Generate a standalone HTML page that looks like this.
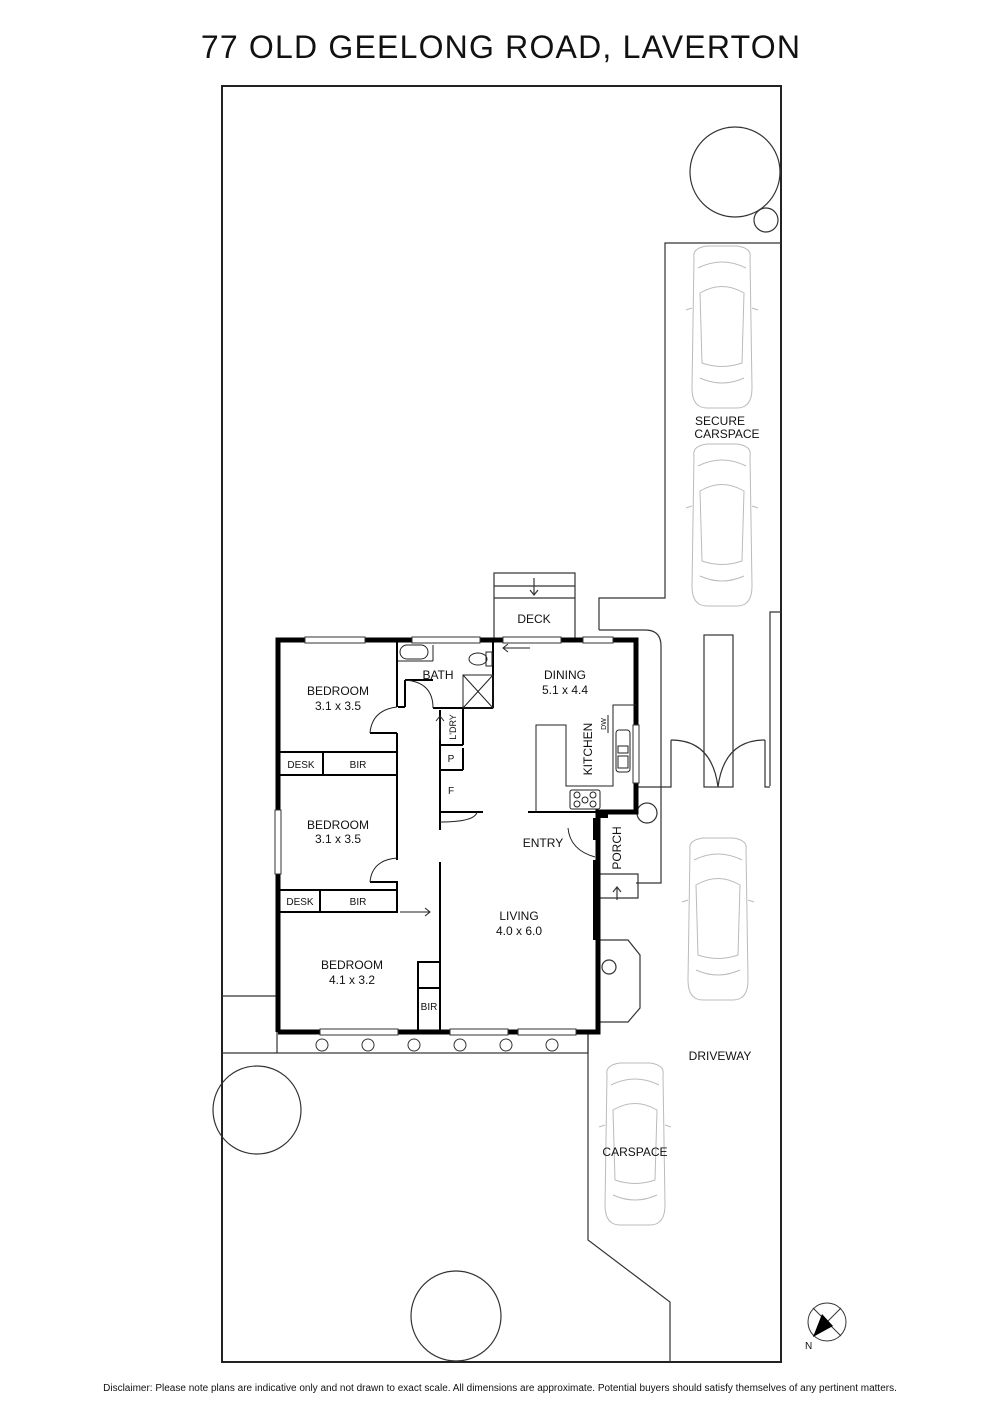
<!DOCTYPE html>
<html><head><meta charset="utf-8"><style>
html,body{margin:0;padding:0;background:#fff;}
svg{display:block}
text{font-family:"Liberation Sans",Arial,sans-serif;fill:#111}
</style></head><body>
<svg width="1000" height="1414" viewBox="0 0 1000 1414" xmlns="http://www.w3.org/2000/svg">
<defs>
<g id="car" fill="none" stroke="#bbb" stroke-width="1">
<path d="M-28,-70 Q-30,-80 -15,-82 L15,-82 Q30,-80 28,-70 L30,60 Q30,80 15,80 L-15,80 Q-30,80 -30,60 Z"/>
<path d="M-22,-35 Q0,-48 22,-35 L20,35 Q0,42 -20,35 Z"/>
<path d="M-24,-60 Q0,-72 24,-60"/>
<path d="M-22,50 Q0,60 22,50"/>
<line x1="-30" y1="-20" x2="-36" y2="-18"/><line x1="30" y1="-20" x2="36" y2="-18"/>
</g>
</defs>
<text x="501" y="58" font-size="32" text-anchor="middle" letter-spacing="1.2">77 OLD GEELONG ROAD, LAVERTON</text>

<rect x="222" y="86" width="559" height="1276" fill="none" stroke="#222" stroke-width="2"/>

<g fill="none" stroke="#333" stroke-width="1.2">
<circle cx="735" cy="172" r="45"/>
<circle cx="766" cy="220" r="12"/>
<circle cx="257" cy="1110" r="44"/>
<circle cx="456" cy="1316" r="45"/>
</g>

<g fill="none" stroke="#333" stroke-width="1.2">
<polyline points="781,243 665,243 665,598 599,598 599,630"/>
<path d="M599,630 L645,630 Q661,630 661,646 L661,883 L636,883"/>
<polyline points="770,786 770,612 781,612"/>
<polyline points="638,787 671,787 671,740"/>
<polyline points="765,740 765,787 770,787"/>
<rect x="704" y="635" width="29" height="152"/>
<path d="M671,740 Q712,740 718,787"/>
<path d="M765,740 Q724,740 718,787"/>
<circle cx="647" cy="813" r="10"/>
<rect x="494" y="573" width="81" height="67"/>
<line x1="494" y1="586" x2="575" y2="586"/><line x1="494" y1="598" x2="575" y2="598"/>
<line x1="534" y1="578" x2="534" y2="594"/><path d="M530,590 L534,595 L538,590"/>
<rect x="277" y="1032" width="311" height="21"/>
<polyline points="588,1032 588,1240 670,1302 670,1362"/>
<line x1="222" y1="1053" x2="277" y2="1053"/>
<polyline points="222,996 277,996"/>
<polyline points="598,940 628,940 640,955 640,1008 628,1022 598,1022"/>
<circle cx="609" cy="967" r="7"/>
<polyline points="598,874 638,874 638,898 598,898"/>
<line x1="617" y1="888" x2="617" y2="900"/><path d="M613,892 L617,887 L621,892"/>
</g>
<g fill="none" stroke="#333" stroke-width="1">
<circle cx="322" cy="1045" r="6"/><circle cx="368" cy="1045" r="6"/><circle cx="414" cy="1045" r="6"/>
<circle cx="460" cy="1045" r="6"/><circle cx="506" cy="1045" r="6"/><circle cx="552" cy="1045" r="6"/>
</g>

<use href="#car" x="722" y="328"/>
<use href="#car" x="722" y="526"/>
<use href="#car" x="718" y="920"/>
<use href="#car" x="635" y="1145"/>

<g fill="none" stroke="#000" stroke-width="5">
<polyline points="278,1032 278,640 636,640 636,812 598,812 598,1032 278,1032"/>
</g>
<g fill="#fff" stroke="#333" stroke-width="1">
<rect x="305" y="637" width="60" height="6"/>
<rect x="412" y="637" width="68" height="6"/>
<rect x="503" y="637" width="58" height="6"/>
<rect x="583" y="637" width="30" height="6"/>
<rect x="633" y="725" width="6" height="58"/>
<rect x="275" y="810" width="6" height="64"/>
<rect x="320" y="1029" width="78" height="6"/>
<rect x="450" y="1029" width="58" height="6"/>
<rect x="518" y="1029" width="58" height="6"/>
</g>
<g fill="none" stroke="#000" stroke-width="2">
<polyline points="397,640 397,707"/>
<polyline points="397,733 397,775 280,775"/>
<line x1="280" y1="752" x2="397" y2="752"/>
<line x1="323" y1="752" x2="323" y2="775"/>
<polyline points="370,733 397,733"/>
<line x1="397" y1="775" x2="397" y2="860"/>
<polyline points="370,882 397,882 397,912 280,912"/>
<line x1="280" y1="890" x2="397" y2="890"/>
<line x1="320" y1="890" x2="320" y2="912"/>
<line x1="405" y1="680" x2="405" y2="707"/>
<line x1="398" y1="707" x2="405" y2="707"/>
<polyline points="405,680 433,680"/>
<line x1="433" y1="708" x2="493" y2="708"/>
<line x1="493" y1="640" x2="493" y2="708"/>
<line x1="463" y1="708" x2="463" y2="745"/>
<line x1="440" y1="710" x2="440" y2="830"/>
<line x1="440" y1="862" x2="440" y2="1032"/>
<line x1="440" y1="745" x2="463" y2="745"/>
<line x1="440" y1="770" x2="463" y2="770"/>
<line x1="463" y1="748" x2="463" y2="770"/>
<line x1="440" y1="812" x2="483" y2="812"/>
<line x1="528" y1="812" x2="598" y2="812"/>
<polyline points="418,1032 418,962 440,962"/>
<polyline points="418,988 440,988"/>
</g>
<g stroke="#000" stroke-width="4"><line x1="595" y1="818" x2="595" y2="840"/><line x1="595" y1="860" x2="595" y2="940"/><line x1="598" y1="816" x2="608" y2="816"/></g>
<g fill="none" stroke="#222" stroke-width="1">
<path d="M405,680 Q433,682 433,708"/>
<path d="M397,707 Q372,710 370,733"/>
<path d="M397,858 Q372,860 370,882"/>
<path d="M568,828 Q570,850 595,857"/>
<path d="M440,822 Q475,822 477,812"/>
<rect x="400" y="645" width="28" height="14" rx="7"/>
<line x1="398" y1="661" x2="433" y2="661"/><line x1="433" y1="645" x2="433" y2="661"/>
<ellipse cx="478" cy="659" rx="9" ry="6"/><rect x="486" y="652" width="6" height="14"/>
<rect x="463" y="675" width="30" height="33"/>
<line x1="463" y1="675" x2="493" y2="708"/><line x1="493" y1="675" x2="463" y2="708"/>
<polyline points="536,812 536,725 566,725 566,786 613,786 613,705 636,705"/>
<rect x="570" y="790" width="30" height="19" rx="2"/>
<circle cx="577" cy="795" r="3"/><circle cx="585" cy="800" r="3"/><circle cx="593" cy="795" r="3"/><circle cx="577" cy="804" r="3"/><circle cx="593" cy="804" r="3"/>
<rect x="616" y="730" width="14" height="42" rx="3"/>
<rect x="618" y="746" width="10" height="7"/><rect x="618" y="756" width="10" height="12"/>
<line x1="608" y1="715" x2="608" y2="733"/>
<line x1="503" y1="648" x2="530" y2="648"/><path d="M508,644 L503,648 L508,652"/>
<line x1="440" y1="740" x2="440" y2="716"/><path d="M436,721 L440,716 L444,721"/>
<line x1="400" y1="912" x2="430" y2="912"/><path d="M425,908 L430,912 L425,916"/>
</g>

<g font-size="12" text-anchor="middle">
<text x="534" y="623">DECK</text>
<text x="338" y="695">BEDROOM</text><text x="338" y="710">3.1 x 3.5</text>
<text x="438" y="679">BATH</text>
<text x="565" y="679">DINING</text><text x="565" y="694">5.1 x 4.4</text>
<text x="338" y="829">BEDROOM</text><text x="338" y="843">3.1 x 3.5</text>
<text x="543" y="847">ENTRY</text>
<text x="519" y="920">LIVING</text><text x="519" y="935">4.0 x 6.0</text>
<text x="352" y="969">BEDROOM</text><text x="352" y="984">4.1 x 3.2</text>
<text x="720" y="425">SECURE</text><text x="727" y="438">CARSPACE</text>
<text x="720" y="1060">DRIVEWAY</text>
<text x="635" y="1156">CARSPACE</text>
</g>
<g font-size="10" text-anchor="middle">
<text x="301" y="768">DESK</text><text x="358" y="768">BIR</text>
<text x="300" y="905">DESK</text><text x="358" y="905">BIR</text>
<text x="429" y="1010">BIR</text>
<text x="451" y="762">P</text><text x="451" y="794">F</text>
<text transform="translate(456,727) rotate(-90)" font-size="9">L'DRY</text>
<text transform="translate(592,749) rotate(-90)" font-size="12">KITCHEN</text>
<text transform="translate(606,724) rotate(-90)" font-size="7">DW</text>
<text transform="translate(621,848) rotate(-90)" font-size="12">PORCH</text>
</g>

<g>
<circle cx="827" cy="1322" r="19" fill="none" stroke="#333" stroke-width="1"/>
<line x1="813" y1="1336" x2="841" y2="1308" stroke="#333"/>
<line x1="813" y1="1308" x2="841" y2="1336" stroke="#333"/>
<polygon points="813,1337 822,1314 833,1326" fill="#000"/>
<text x="805" y="1349" font-size="10">N</text>
</g>

<text x="500" y="1391" font-size="10" text-anchor="middle">Disclaimer: Please note plans are indicative only and not drawn to exact scale. All dimensions are approximate. Potential buyers should satisfy themselves of any pertinent matters.</text>
</svg>
</body></html>
